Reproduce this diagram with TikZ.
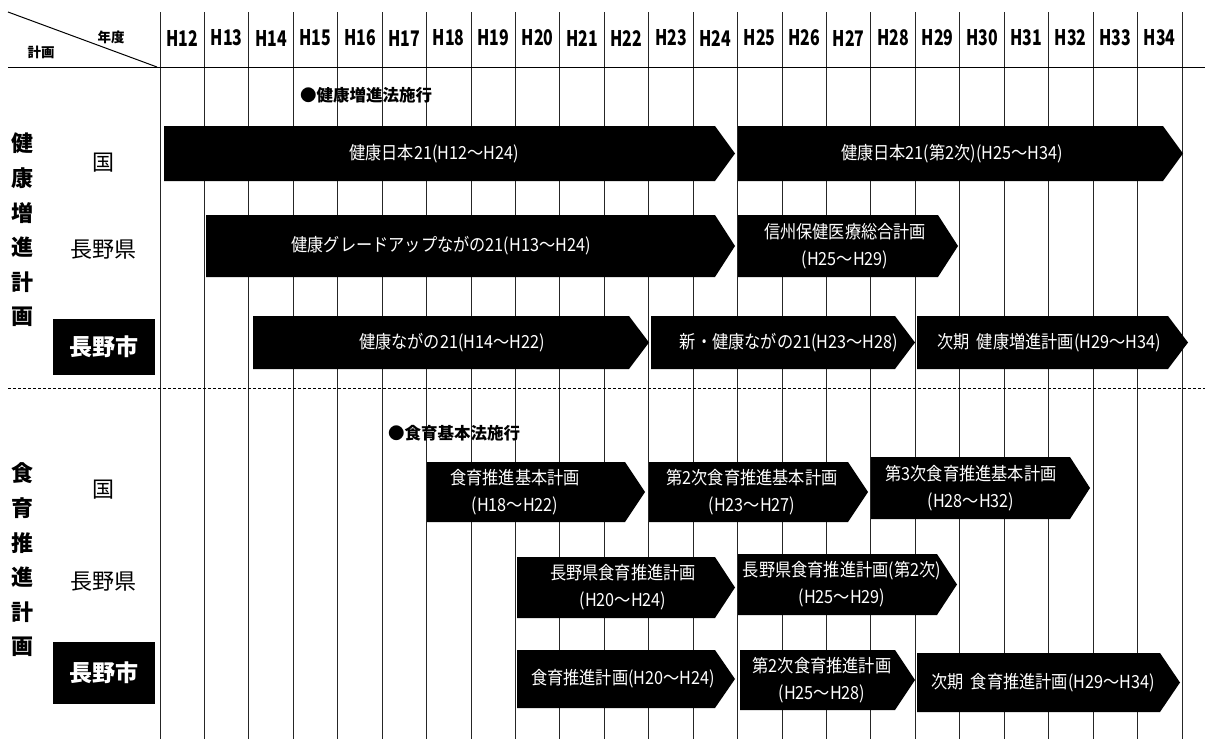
\documentclass[tikz,border=0pt]{standalone}
\usepackage{fontspec}
\setmainfont{Noto Sans CJK JP}
\newfontfamily\hdrfont[FakeStretch=0.74]{Noto Sans CJK JP}
\newfontfamily\barfont[FakeStretch=0.9]{Noto Sans CJK JP}
\newcommand\planbar[7]{%
  \fill[black] (#2,#4) -- ({#3-20},#4) -- (#3,{(#4+#5)/2}) -- ({#3-20},#5) -- (#2,#5) -- cycle;
  \node[bartext] (#1) at (#6,{(#4+#5)/2}) {#7};
}
\tikzset{
  gridline/.style={line width=0.8pt, black!85},
  rule/.style={line width=1pt, black},
  hdr/.style={font=\hdrfont\bfseries\fontsize{21.5}{23}\selectfont, inner sep=0pt},
  corner/.style={font=\bfseries\fontsize{13.5}{15}\selectfont, inner sep=0pt},
  bartext/.style={text=white, font=\barfont\fontsize{18}{27}\selectfont, inner sep=0pt, align=center},
  vlabel/.style={font=\bfseries\fontsize{22}{34.6}\selectfont, inner sep=0pt, align=center},
  rowlab/.style={font=\fontsize{22}{24}\selectfont, inner sep=0pt},
  citybox/.style={fill=black, text=white, font=\bfseries\fontsize{23}{26}\selectfont, minimum width=102pt, inner sep=0pt},
  event/.style={font=\bfseries\fontsize{16.5}{20}\selectfont, inner sep=0pt, anchor=west}
}
\begin{document}
\begin{tikzpicture}[x=1pt,y=-1pt]
\useasboundingbox (0,0) rectangle (1205,739);
% grid
\foreach \i in {0,...,23}
  \draw[gridline] ({160+44.43*\i},12) -- ({160+44.43*\i},739);
\foreach \i [evaluate=\i as \yr using int(12+\i)] in {0,...,22}
  \node[hdr] (h\yr) at ({160+44.43*(\i+0.5)},38) {H\yr};
\draw[rule] (8,67) -- (1205,67);
\draw[rule] (8,12) -- (157,67);
\draw[rule, densely dashed] (8,388) -- (1205,388);
\node[corner] (nendo) at (111,37) {年度};
\node[corner] (keikaku) at (41,52) {計画};
% left labels section 1
\node[vlabel] (sec1) at (23,230) {健\\康\\増\\進\\計\\画};
\node[rowlab] (kuni1) at (103,163) {国};
\node[rowlab] (ken1) at (103,250) {長野県};
\node[citybox, minimum height=56pt] (shi1) at (104,347) {長野市};
% left labels section 2
\node[vlabel] (sec2) at (23,560) {食\\育\\推\\進\\計\\画};
\node[rowlab] (kuni2) at (103,490) {国};
\node[rowlab] (ken2) at (103,582) {長野県};
\node[citybox, minimum height=62pt] (shi2) at (104,673) {長野市};
% events
\node[event] (ev1) at (300,95) {●健康増進法施行};
\node[event] (ev2) at (388,433) {●食育基本法施行};
% section 1 bars
\planbar{a1}{164}{735}{126}{181}{434}{健康日本21(H12～H24)}
\planbar{a2}{738}{1183}{126}{181}{952}{健康日本21(第2次)(H25～H34)}
\planbar{b1}{206}{735}{215}{277}{441}{健康グレードアップながの21(H13～H24)}
\planbar{b2}{738}{958}{215}{277}{845}{信州保健医療総合計画\\(H25～H29)}
\planbar{c1}{253}{649}{316}{369}{452}{健康ながの21(H14～H22)}
\planbar{c2}{651}{915}{316}{369}{789}{新・健康ながの21(H23～H28)}
\planbar{c3}{917}{1188}{316}{369}{1049}{次期\ \ 健康増進計画(H29～H34)}
% section 2 bars
\planbar{d1}{427}{645}{462}{522}{515}{食育推進基本計画\\(H18～H22)}
\planbar{d2}{649}{868}{462}{522}{752}{第2次食育推進基本計画\\(H23～H27)}
\planbar{d3}{871}{1090}{457}{519}{971}{第3次食育推進基本計画\\(H28～H32)}
\planbar{e1}{517}{735}{557}{618}{623}{長野県食育推進計画\\(H20～H24)}
\planbar{e2}{738}{957}{554}{615}{842}{長野県食育推進計画(第2次)\\(H25～H29)}
\planbar{f1}{517}{735}{650}{708}{623}{食育推進計画(H20～H24)}
\planbar{f2}{740}{915}{650}{710}{822}{第2次食育推進計画\\(H25～H28)}
\planbar{f3}{917}{1180}{653}{712}{1043}{次期\ \ 食育推進計画(H29～H34)}
\end{tikzpicture}
\end{document}
